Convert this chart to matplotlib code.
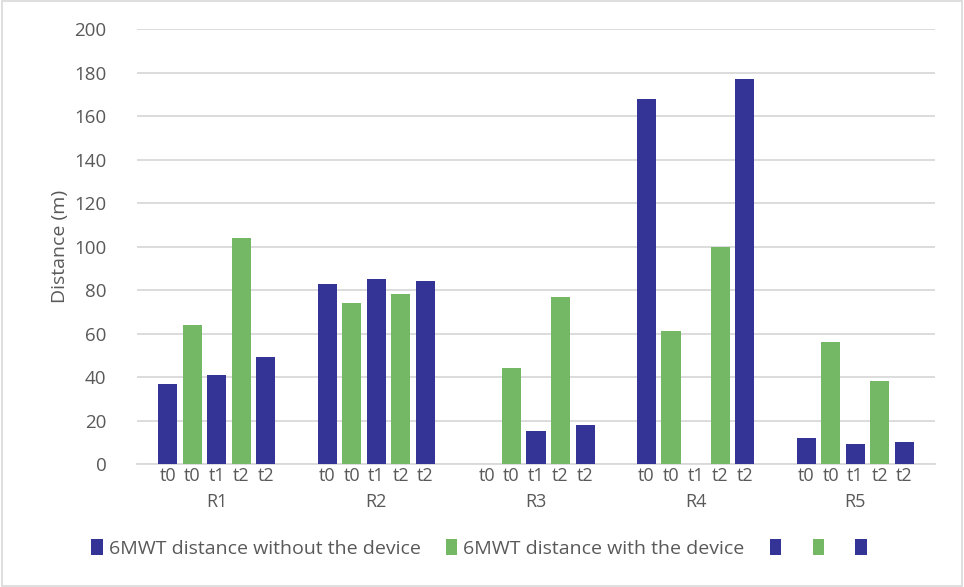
import matplotlib
matplotlib.use("Agg")
import matplotlib.pyplot as plt
import matplotlib.transforms as mtransforms
import numpy as np

plt.rcParams["font.family"] = ["Open Sans", "DejaVu Sans"]

groups = ["R1", "R2", "R3", "R4", "R5"]
slot_labels = ["t0", "t0", "t1", "t2", "t2"]

# one list per bar slot (values for R1..R5)
t0_without = [37, 83, 0, 168, 12]
t0_with = [64, 74, 44, 61, 56]
t1_without = [41, 85, 15, 0, 9]
t2_with = [104, 78, 77, 100, 38]
t2_without = [49, 84, 18, 177, 10]

series = [t0_without, t0_with, t1_without, t2_with, t2_without]
names = ["6MWT distance without the device", "6MWT distance with the device", "", "", ""]

blue = "#343396"
green = "#74b866"
colors = [blue, green, blue, green, blue]
grey = "#595959"

fig = plt.figure(figsize=(9.64, 5.87), dpi=100)
ax = fig.add_axes([0.142, 0.2095, 0.828, 0.741])

group_step = 6.5
base = np.arange(len(groups)) * group_step

bars = []
for j, vals in enumerate(series):
    b = ax.bar(base + j, vals, width=0.78, color=colors[j], label=names[j], zorder=3)
    bars.append(b)

ax.set_ylim(0, 200)
ax.set_yticks(range(0, 201, 20))
ax.set_xlim(-1.25, base[-1] + 4 + 1.25)

xt = np.concatenate([base + j for j in range(5)])
xl = [slot_labels[j] for j in range(5) for _ in groups]
ax.set_xticks(xt)
ax.set_xticklabels(xl)
ax.tick_params(axis="x", length=0, pad=2, labelsize=13, labelcolor=grey)
ax.tick_params(axis="y", length=0, pad=22, labelsize=13.5, labelcolor=grey)

trans = mtransforms.blended_transform_factory(ax.transData, ax.transAxes)
for g, name in zip(base, groups):
    ax.text(g + 2, -0.088, name, transform=trans, ha="center", va="center",
            fontsize=13, color=grey)

ax.grid(axis="y", color="#d9d9d9", linewidth=1.3, zorder=0)
for s in ["top", "right", "left"]:
    ax.spines[s].set_visible(False)
ax.spines["bottom"].set_color("#d9d9d9")
ax.spines["bottom"].set_linewidth(1.3)

ax.set_ylabel("Distance (m)", fontsize=14, color=grey, labelpad=4)

handles = [b[0] for b in bars]
fig.legend(handles, names, loc="center", bbox_to_anchor=(0.5, 0.066), ncol=5,
           frameon=False, fontsize=14, labelcolor=grey, handlelength=0.6,
           handleheight=0.9, handletextpad=0.3, columnspacing=1.3)

fig.patches.append(plt.Rectangle((0.002, 0.002), 0.996, 0.996, transform=fig.transFigure,
                                 fill=False, edgecolor="#d9d9d9", linewidth=1.2))

fig.savefig("out.png", dpi=100, facecolor="white")
